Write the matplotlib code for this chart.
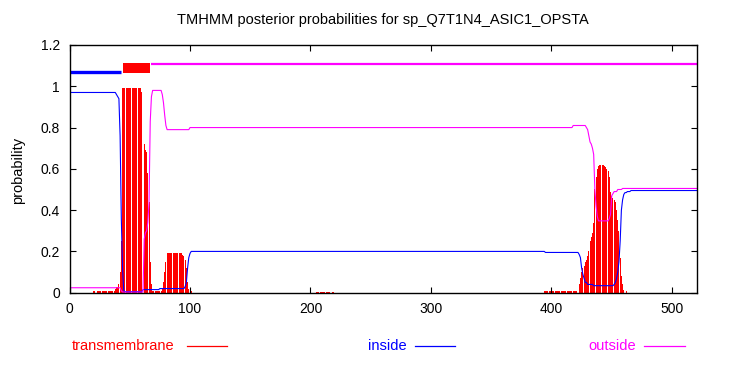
import numpy as np
import matplotlib
matplotlib.use("Agg")
import matplotlib.pyplot as plt
from matplotlib.lines import Line2D

N = 521
title = "TMHMM posterior probabilities for sp_Q7T1N4_ASIC1_OPSTA"

# (first residue, last residue, probability) plateaus
inside_runs = [(0, 38, 0.97), (39, 39, 0.96), (40, 40, 0.95), (41, 41, 0.94),
               (42, 42, 0.76), (43, 43, 0.36), (44, 44, 0.12), (45, 45, 0.01),
               (46, 60, 0.005), (61, 74, 0.015), (75, 95, 0.02), (96, 96, 0.03),
               (97, 97, 0.05), (98, 98, 0.12), (99, 99, 0.17), (100, 100, 0.19),
               (101, 394, 0.2), (395, 422, 0.195), (423, 423, 0.185), (424, 424, 0.17),
               (425, 425, 0.12), (426, 426, 0.09), (427, 427, 0.07), (428, 429, 0.05),
               (430, 434, 0.04), (435, 451, 0.034), (452, 452, 0.04), (453, 453, 0.05),
               (454, 454, 0.07), (455, 455, 0.1), (456, 456, 0.15), (457, 457, 0.25),
               (458, 458, 0.4), (459, 459, 0.45), (460, 460, 0.476), (461, 462, 0.485),
               (463, 465, 0.49), (466, 521, 0.495)]

outside_runs = [(0, 42, 0.024), (43, 43, 0.01), (44, 61, 0.003), (62, 62, 0.26),
                (63, 63, 0.29), (64, 64, 0.30), (65, 65, 0.34), (66, 66, 0.44),
                (67, 67, 0.83), (68, 68, 0.95), (69, 76, 0.98), (77, 77, 0.96),
                (78, 78, 0.92), (79, 79, 0.86), (80, 80, 0.81), (81, 99, 0.79),
                (100, 417, 0.80), (418, 428, 0.81), (429, 429, 0.80), (430, 430, 0.79),
                (431, 431, 0.76), (432, 432, 0.73), (433, 433, 0.72), (434, 434, 0.70),
                (435, 435, 0.67), (436, 436, 0.50), (437, 437, 0.42), (438, 438, 0.37),
                (439, 447, 0.348), (448, 448, 0.36), (449, 449, 0.38), (450, 450, 0.47),
                (451, 451, 0.48), (452, 454, 0.49), (455, 458, 0.50), (459, 521, 0.505)]

tm_runs = [(20, 37, 0.007), (38, 38, 0.02), (39, 40, 0.03), (41, 41, 0.04),
           (42, 42, 0.1), (43, 43, 0.25), (44, 59, 0.99), (60, 60, 0.97),
           (61, 61, 0.92), (62, 62, 0.72), (63, 63, 0.69), (64, 64, 0.68),
           (65, 65, 0.58), (66, 66, 0.44), (67, 67, 0.15), (68, 68, 0.04),
           (69, 76, 0.01), (77, 77, 0.02), (78, 78, 0.05), (79, 79, 0.1),
           (80, 80, 0.15), (81, 93, 0.19), (94, 94, 0.185), (95, 95, 0.18),
           (96, 96, 0.16), (97, 97, 0.12), (98, 98, 0.05), (99, 99, 0.02),
           (100, 101, 0.01), (205, 219, 0.005), (394, 421, 0.01),
           (422, 422, 0.02), (423, 423, 0.04), (424, 424, 0.07), (425, 425, 0.1),
           (426, 426, 0.12), (427, 427, 0.13), (428, 428, 0.15), (429, 429, 0.16),
           (430, 430, 0.18), (431, 431, 0.2), (432, 432, 0.25), (433, 433, 0.27),
           (434, 434, 0.29), (435, 435, 0.34), (436, 436, 0.5), (437, 437, 0.56),
           (438, 438, 0.6), (439, 439, 0.615), (440, 442, 0.62), (443, 443, 0.617),
           (444, 444, 0.615), (445, 445, 0.61), (446, 446, 0.6), (447, 447, 0.59),
           (448, 448, 0.56), (449, 449, 0.49), (450, 450, 0.47), (451, 451, 0.46),
           (452, 452, 0.45), (453, 453, 0.44), (454, 454, 0.4), (455, 455, 0.35),
           (456, 456, 0.3), (457, 457, 0.17), (458, 458, 0.08), (459, 459, 0.04),
           (460, 460, 0.015), (461, 462, 0.01)]

# predicted topology: (region, first residue, last residue)
topology = [("inside", 0, 43), ("TM", 44, 67), ("outside", 68, 521)]
topo_level = {"inside": 1.07, "TM": 1.09, "outside": 1.11}

x_ticks = [0, 100, 200, 300, 400, 500]
y_ticks = [0, 0.2, 0.4, 0.6, 0.8, 1.0, 1.2]
y_tick_labels = ["0", "0.2", "0.4", "0.6", "0.8", "1", "1.2"]


def expand(runs):
    arr = np.zeros(N + 1)
    for s, e, v in runs:
        arr[s:e + 1] = v
    return arr


pos = np.arange(N + 1)
inside = expand(inside_runs)
outside = expand(outside_runs)
tm = expand(tm_runs)

plt.rcParams['font.family'] = ['Liberation Sans', 'DejaVu Sans']
fig = plt.figure(figsize=(7.33, 3.67), dpi=100)
ax = fig.add_axes([69.5 / 733, 1 - 292.7 / 367, (697.3 - 69.5) / 733, (292.7 - 45) / 367])

ax.bar(pos, tm, width=0.8, color='#ff0000', linewidth=0, antialiased=False)
ax.plot(pos, inside, color='#0000ff', lw=0.8)
ax.plot(pos, outside, color='#ff00ff', lw=0.8)

for region, s, e in topology:
    y = topo_level[region]
    if region == "inside":
        ax.plot([s, e], [y, y], color='#0000ff', lw=2.4, solid_capstyle='butt')
    elif region == "outside":
        ax.plot([s, e], [y, y], color='#ff00ff', lw=1.6, solid_capstyle='butt')
    else:
        ax.fill_between([s, e], y - 0.025, y + 0.025, color='#ff0000', linewidth=0)

ax.set_xlim(0, N)
ax.set_ylim(0, 1.2)
ax.set_xticks(x_ticks)
ax.set_xticklabels([str(t) for t in x_ticks])
ax.set_yticks(y_ticks)
ax.set_yticklabels(y_tick_labels)
ax.tick_params(direction='in', length=4, width=0.8, top=True, right=True,
               labelsize=10, pad=7)
for sp in ax.spines.values():
    sp.set_linewidth(1.0)

fig.text(383 / 733, 1 - 20 / 367, title, ha='center', va='center', fontsize=10.5)
fig.text(18 / 733, 1 - 170 / 367, "probability", rotation=90, ha='center', va='center', fontsize=10.5)

legend_y = 1 - 346 / 367
legend = [("transmembrane", '#ff0000', 72, 187, 227),
          ("inside", '#0000ff', 368, 415, 455),
          ("outside", '#ff00ff', 588, 644, 685)]
for label, col, tx, l0, l1 in legend:
    fig.text(tx / 733, legend_y, label, color=col, ha='left', va='center', fontsize=10.5)
    fig.add_artist(Line2D([l0 / 733, l1 / 733], [legend_y, legend_y], color=col, lw=0.9,
                          transform=fig.transFigure))

fig.savefig("out.png", dpi=100)
